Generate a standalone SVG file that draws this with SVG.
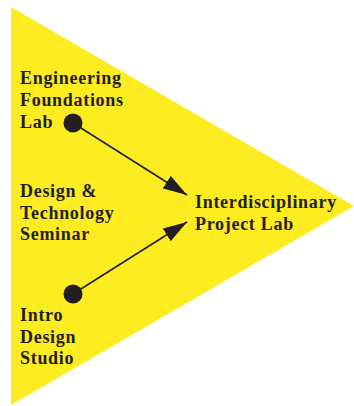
<svg xmlns="http://www.w3.org/2000/svg" width="354" height="406" viewBox="0 0 354 406">
<style>
.lbl{font-family:"Liberation Serif","Times New Roman",serif;font-weight:bold;font-size:18px;letter-spacing:0.7px;fill:#231f20}
.dot{fill:#231f20}
.edge{stroke:#231f20;stroke-width:1.6;fill:none;marker-end:url(#ah)}
</style>
<defs>
<marker id="ah" viewBox="0 0 24 15" refX="24" refY="7.5" markerUnits="userSpaceOnUse" markerWidth="24" markerHeight="15" orient="auto">
<path d="M0,0 L24,7.5 L0,15 z" fill="#231f20"/>
</marker>
</defs>
<rect width="354" height="406" fill="#ffffff"/>
<polygon id="bg" points="11,7 354,206 11,405" fill="#fcec20"/>
<g id="connectors">
<line class="edge" x1="73" y1="123" x2="187" y2="195"/>
<line class="edge" x1="73" y1="294" x2="187" y2="222"/>
</g>
<g id="engineering">
<text class="lbl"><tspan x="20" y="84">Engineering</tspan><tspan x="20" y="106">Foundations</tspan><tspan x="20" y="128">Lab</tspan></text>
<circle class="dot" cx="73" cy="123" r="9.5"/>
</g>
<g id="seminar">
<text class="lbl"><tspan x="20" y="197">Design &amp;</tspan><tspan x="20" y="219">Technology</tspan><tspan x="20" y="240">Seminar</tspan></text>
</g>
<g id="project">
<text class="lbl"><tspan x="195" y="208">Interdisciplinary</tspan><tspan x="195" y="230">Project Lab</tspan></text>
</g>
<g id="intro">
<circle class="dot" cx="73" cy="294" r="9.5"/>
<text class="lbl"><tspan x="20" y="321">Intro</tspan><tspan x="20" y="343">Design</tspan><tspan x="20" y="364">Studio</tspan></text>
</g>
</svg>
